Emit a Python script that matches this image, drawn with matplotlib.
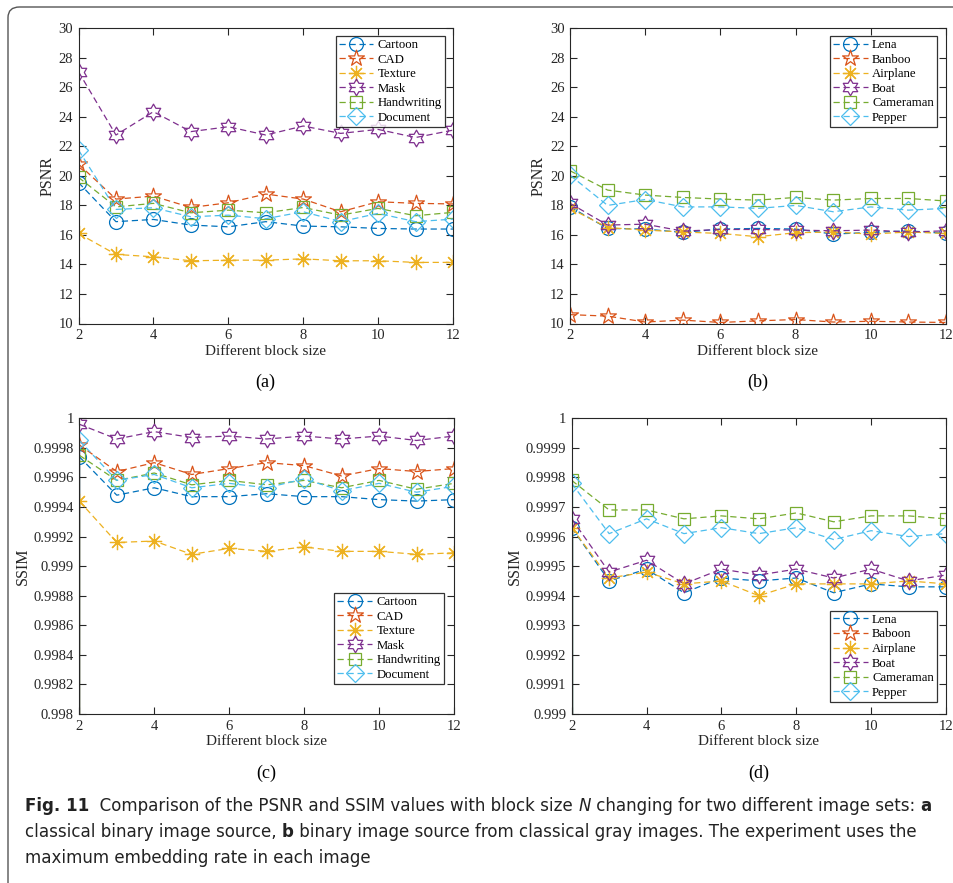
import os
import matplotlib
matplotlib.use("Agg")
import matplotlib.pyplot as plt
from matplotlib import font_manager as fm
from matplotlib.path import Path
from matplotlib.patches import FancyBboxPatch
from matplotlib.ticker import MultipleLocator, FuncFormatter

# x axis: block size N
block_size = [2, 3, 4, 5, 6, 7, 8, 9, 10, 11, 12]

# (a) PSNR, classical binary images
psnr_cartoon = [19.55, 16.9, 17.05, 16.67, 16.55, 16.9, 16.6, 16.55, 16.44, 16.4, 16.4]
psnr_cad = [20.8, 18.43, 18.63, 17.86, 18.18, 18.77, 18.43, 17.57, 18.25, 18.14, 18.1]
psnr_texture = [16.1, 14.68, 14.52, 14.25, 14.29, 14.29, 14.38, 14.25, 14.25, 14.14, 14.14]
psnr_mask = [27.06, 22.77, 24.35, 23.0, 23.33, 22.77, 23.38, 22.88, 23.15, 22.6, 23.1]
psnr_handwriting = [19.9, 17.9, 18.14, 17.5, 17.68, 17.5, 17.86, 17.34, 17.8, 17.3, 17.53]
psnr_document = [21.75, 17.73, 17.84, 17.23, 17.34, 17.1, 17.57, 16.9, 17.46, 16.9, 17.07]

# (b) PSNR, binary images from gray images
psnr_lena = [17.9, 16.44, 16.4, 16.17, 16.4, 16.44, 16.4, 16.06, 16.17, 16.28, 16.1]
psnr_banboo = [10.6, 10.5, 10.1, 10.23, 10.07, 10.18, 10.27, 10.1, 10.15, 10.1, 10.07]
psnr_airplane = [17.8, 16.5, 16.33, 16.2, 16.1, 15.88, 16.15, 16.2, 16.06, 16.2, 16.1]
psnr_boat = [18.14, 16.67, 16.73, 16.26, 16.37, 16.37, 16.33, 16.28, 16.33, 16.2, 16.28]
psnr_cameraman = [20.35, 19.04, 18.7, 18.54, 18.43, 18.36, 18.54, 18.36, 18.47, 18.47, 18.3]
psnr_pepper = [20.05, 18.0, 18.4, 17.9, 17.9, 17.8, 18.0, 17.57, 17.9, 17.68, 17.8]

# (c) SSIM, classical binary images
ssim_cartoon = [0.99974, 0.99948, 0.99953, 0.99947, 0.99947, 0.99949, 0.99947, 0.99947, 0.99945, 0.99944, 0.99945]
ssim_cad = [0.99982, 0.99964, 0.99970, 0.99962, 0.99966, 0.99970, 0.99968, 0.99961, 0.99966, 0.99964, 0.99966]
ssim_texture = [0.99944, 0.99916, 0.99917, 0.99908, 0.99912, 0.99910, 0.99913, 0.99910, 0.99910, 0.99908, 0.99909]
ssim_mask = [0.99996, 0.99986, 0.99991, 0.99987, 0.99988, 0.99986, 0.99988, 0.99986, 0.99988, 0.99985, 0.99988]
ssim_handwriting = [0.99975, 0.99958, 0.99963, 0.99955, 0.99958, 0.99955, 0.99958, 0.99953, 0.99958, 0.99952, 0.99956]
ssim_document = [0.99985, 0.99958, 0.99962, 0.99953, 0.99956, 0.99953, 0.99959, 0.99951, 0.99956, 0.99950, 0.99954]

# (d) SSIM, binary images from gray images (Baboon lies below the shown range)
ssim_lena = [0.99963, 0.99945, 0.99949, 0.99941, 0.99946, 0.99945, 0.99946, 0.99941, 0.99944, 0.99943, 0.99943]
ssim_baboon = [0.9986, 0.9984, 0.9983, 0.9983, 0.9983, 0.9983, 0.9983, 0.9983, 0.9983, 0.9983, 0.9983]
ssim_airplane = [0.99963, 0.99946, 0.99948, 0.99944, 0.99945, 0.99940, 0.99944, 0.99944, 0.99944, 0.99945, 0.99944]
ssim_boat = [0.99966, 0.99948, 0.99952, 0.99944, 0.99949, 0.99947, 0.99949, 0.99946, 0.99949, 0.99945, 0.99947]
ssim_cameraman = [0.99979, 0.99969, 0.99969, 0.99966, 0.99967, 0.99966, 0.99968, 0.99965, 0.99967, 0.99967, 0.99966]
ssim_pepper = [0.99978, 0.99961, 0.99966, 0.99961, 0.99963, 0.99961, 0.99963, 0.99959, 0.99962, 0.99960, 0.99961]

labels_binary = ["Cartoon", "CAD", "Texture", "Mask", "Handwriting", "Document"]
labels_gray_psnr = ["Lena", "Banboo", "Airplane", "Boat", "Cameraman", "Pepper"]
labels_gray_ssim = ["Lena", "Baboon", "Airplane", "Boat", "Cameraman", "Pepper"]

# MATLAB default colour order
colors = ["#0072BD", "#D95319", "#EDB120", "#7E2F8E", "#77AC30", "#4DBEEE"]
pentagram = Path.unit_regular_star(5, 0.38)
hexagram = Path.unit_regular_star(6, 0.577)
markers = ["o", pentagram, (8, 2, 0), hexagram, "s", "D"]
msizes = [10, 12, 11, 12, 8.5, 9]

axis_col = "#262626"
plt.rcParams["font.family"] = ["Liberation Serif", "DejaVu Serif"]

fig = plt.figure(figsize=(9.54, 8.83), dpi=100)

W, H = 954.0, 883.0


def add_axes_px(left, top, right, bottom):
    return fig.add_axes([left / W, 1 - bottom / H, (right - left) / W, (bottom - top) / H])


def fmt(v, pos):
    s = f"{round(v, 6):.4f}".rstrip("0").rstrip(".")
    return s


def draw_panel(ax, series, labels, ylim, ystep, ylabel, tag, legend_loc, anchor, vline=False):
    for i, (vals, lab) in enumerate(zip(series, labels)):
        ax.plot(block_size, vals, linestyle=(0, (5, 3)), linewidth=0.9, color=colors[i],
                marker=markers[i], markersize=msizes[i], markerfacecolor="none",
                markeredgecolor=colors[i], markeredgewidth=0.9, label=lab)
    if vline:
        for i, vals in enumerate(series):
            if vals[0] > ylim[0]:
                ax.vlines(block_size[0], ylim[0], vals[0], color=colors[i], linewidth=1.6, zorder=1.5)
    ax.set_xlim(2, 12)
    ax.set_ylim(*ylim)
    ax.xaxis.set_major_locator(MultipleLocator(2))
    ax.yaxis.set_major_locator(MultipleLocator(ystep))
    ax.yaxis.set_major_formatter(FuncFormatter(fmt))
    ax.tick_params(direction="in", length=5, width=0.8, top=True, right=True,
                   labelsize=10.5, colors=axis_col, pad=4)
    for sp in ax.spines.values():
        sp.set_color(axis_col)
        sp.set_linewidth(0.8)
    ax.set_xlabel("Different block size", fontsize=11, color=axis_col, labelpad=2)
    ax.set_ylabel(ylabel, fontsize=11.5, color=axis_col, labelpad=2)
    ax.text(0.5, -0.2, tag, transform=ax.transAxes, ha="center", va="center", fontsize=13, color="black")
    leg = ax.legend(loc=legend_loc, bbox_to_anchor=anchor, borderaxespad=0, fontsize=9.2,
                    frameon=True, fancybox=False, edgecolor="black", handlelength=2.7,
                    handletextpad=0.35, labelspacing=0.2, borderpad=0.25)
    leg.get_frame().set_linewidth(0.9)


ax_a = add_axes_px(78.5, 28.3, 453, 323.5)
ax_b = add_axes_px(570, 28.3, 946, 323.5)
ax_c = add_axes_px(79.3, 418.3, 454, 714)
ax_d = add_axes_px(571.7, 418.3, 946, 714)

draw_panel(ax_a, [psnr_cartoon, psnr_cad, psnr_texture, psnr_mask, psnr_handwriting, psnr_document],
           labels_binary, (10, 30), 2, "PSNR", "(a)", "upper right", (0.979, 0.974))
draw_panel(ax_b, [psnr_lena, psnr_banboo, psnr_airplane, psnr_boat, psnr_cameraman, psnr_pepper],
           labels_gray_psnr, (10, 30), 2, "PSNR", "(b)", "upper right", (0.976, 0.974))
draw_panel(ax_c, [ssim_cartoon, ssim_cad, ssim_texture, ssim_mask, ssim_handwriting, ssim_document],
           labels_binary, (0.998, 1.0), 0.0002, "SSIM", "(c)", "lower right", (0.973, 0.101), vline=True)
draw_panel(ax_d, [ssim_lena, ssim_baboon, ssim_airplane, ssim_boat, ssim_cameraman, ssim_pepper],
           labels_gray_ssim, (0.999, 1.0), 0.0001, "SSIM", "(d)", "lower right", (0.976, 0.041), vline=True)

# outer frame of the figure panel
frame = FancyBboxPatch((8 / W, -0.05), 1.05, 1.05 - 7 / H,
                       boxstyle="round,pad=0,rounding_size=0.012", transform=fig.transFigure,
                       facecolor="none", edgecolor="#555555", linewidth=1.0, clip_on=False)
fig.patches.append(frame)

# caption font: look for a condensed sans face by file name
font_files = sorted(fm.findSystemFonts())
skip_common = ("semi", "extra", "light", "medium", "black", "thin", "ultra")


def find_face(fams, need, avoid):
    for fam in fams:
        for f in font_files:
            n = os.path.basename(f).lower().replace("_", "").replace("-", "")
            if n.startswith(fam) and all(k in n for k in need) and not any(a in n for a in avoid):
                return f
    return None


fam_order = ["opensans", "notosans", "dejavusans", "liberationsansnarrow"]
reg_file = find_face(fam_order, ("condensed",), skip_common + ("bold", "italic", "oblique")) \
    or find_face(["liberationsansnarrow"], (), skip_common + ("bold", "italic"))
bold_file = find_face(fam_order, ("condensed", "bold"), skip_common + ("italic", "oblique")) \
    or find_face(["liberationsansnarrow"], ("bold",), skip_common + ("italic",))
ital_file = find_face(fam_order, ("condensed", "italic"), skip_common + ("bold",)) \
    or find_face(fam_order, ("condensed", "oblique"), skip_common + ("bold",))


def cap_props(weight, style, size):
    f = {"normal": reg_file, "bold": bold_file, "italic": ital_file}[weight if weight == "bold" else style]
    if f:
        return fm.FontProperties(fname=f, size=size)
    return fm.FontProperties(family=["Noto Sans", "DejaVu Sans"], weight=weight, style=style, size=size)


caption_lines = [
    [("Fig. 11", "bold", "normal"),
     ("  Comparison of the PSNR and SSIM values with block size ", "normal", "normal"),
     ("N", "normal", "italic"),
     (" changing for two different image sets: ", "normal", "normal"),
     ("a", "bold", "normal")],
    [("classical binary image source, ", "normal", "normal"),
     ("b", "bold", "normal"),
     (" binary image source from classical gray images. The experiment uses the", "normal", "normal")],
    [("maximum embedding rate in each image", "normal", "normal")],
]
renderer = fig.canvas.get_renderer()

# size the caption so its first line spans the same width as in the figure (x 25..935 px)
probe_w = 0.0
for s, w, st in caption_lines[0]:
    tp = fig.text(0, 0, s, fontproperties=cap_props(w, st, 15))
    probe_w += tp.get_window_extent(renderer).width
    tp.remove()
cap_size = 15 * 908.0 / probe_w

for k, segs in enumerate(caption_lines):
    x = 25 / W
    y = 1 - (811 + k * 26) / H
    for s, w, st in segs:
        t = fig.text(x, y, s, color="#222222", fontproperties=cap_props(w, st, cap_size),
                     va="baseline", ha="left")
        x += t.get_window_extent(renderer).width / W

fig.savefig("out.png", dpi=100)
